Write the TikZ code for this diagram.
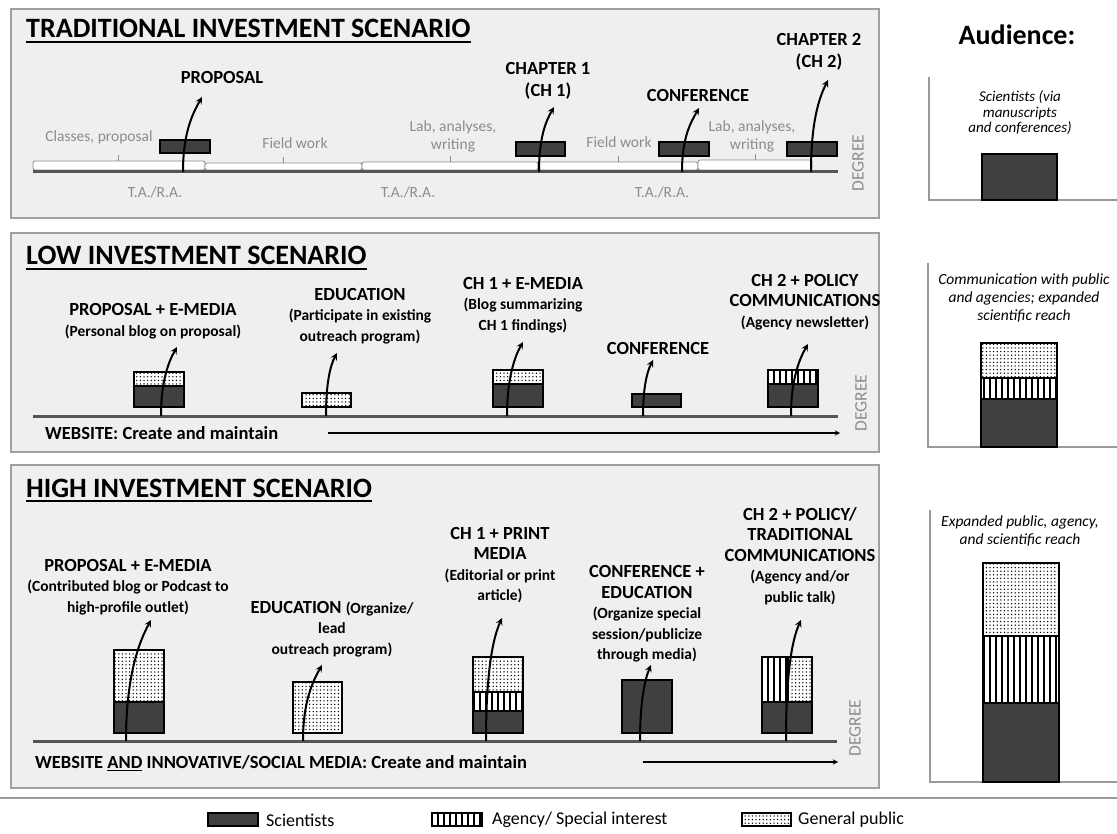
\documentclass[tikz,border=0pt]{standalone}
\usepackage{fontspec}
\setmainfont{Carlito}
\usepackage{tikz}
\usetikzlibrary{patterns.meta}

\definecolor{panelbg}{HTML}{EFEFEF}
\definecolor{panelline}{HTML}{A0A0A0}
\definecolor{scigray}{HTML}{404040}
\definecolor{txtgray}{HTML}{8C8C8C}
\definecolor{axisgray}{HTML}{9A9A9A}
\definecolor{basegray}{HTML}{555555}

\newcommand{\parenfont}{\fontsize{15.5}{18}\selectfont}

\tikzset{
  panel/.style={draw=panelline, line width=2.5, fill=panelbg},
  sci/.style={draw=black, line width=1.2, fill=scigray},
  pub/.style={draw=black, line width=1.2, preaction={fill=white}, pattern={Dots[distance=3.6pt, radius=0.75pt]}},
  agy/.style={draw=black, line width=1.2, preaction={fill=white}, pattern={Lines[angle=90, distance=6pt, line width=1.8pt]}},
  ttl/.style={font=\fontsize{28}{32}\selectfont\bfseries, anchor=base west, inner sep=0pt},
  evt/.style={font=\fontsize{18.5}{20.5}\selectfont\bfseries, align=center, inner sep=0pt},
  gry/.style={font=\fontsize{15.5}{18}\selectfont, text=txtgray, align=center, inner sep=0pt},
  aud/.style={font=\fontsize{15.5}{18.3}\selectfont\itshape, align=center, inner sep=0pt},
  degreelbl/.style={font=\fontsize{17.5}{20}\selectfont, text=txtgray, rotate=90, inner sep=0pt},
  seg/.style={draw=txtgray, line width=0.8, fill=white, rounded corners=2},
  baseline/.style={draw=basegray, line width=3},
  axis/.style={draw=axisgray, line width=2},
  outarrow/.style={->, >=stealth, line width=2},
  webarrow/.style={->, >=stealth, line width=1.3},
  keytext/.style={font=\fontsize{18}{21}\selectfont, anchor=west, inner sep=0pt},
}

\begin{document}
\begin{tikzpicture}[x=1pt,y=-1pt]
\useasboundingbox (0,0) rectangle (1117,834);

% panels
\draw[panel] (11,9) rectangle (879,218);
\draw[panel] (11,233) rectangle (879,452);
\draw[panel] (11,465) rectangle (879,788);

\node[ttl] (ttl1) at (26,38) {TRADITIONAL INVESTMENT SCENARIO};
\draw[line width=1.4] ([yshift=-4pt]ttl1.base west) -- ([yshift=-4pt]ttl1.base east);
\node[ttl] (ttl2) at (26,265) {LOW INVESTMENT SCENARIO};
\draw[line width=1.4] ([yshift=-4pt]ttl2.base west) -- ([yshift=-4pt]ttl2.base east);
\node[ttl] (ttl3) at (26,497) {HIGH INVESTMENT SCENARIO};
\draw[line width=1.4] ([yshift=-4pt]ttl3.base west) -- ([yshift=-4pt]ttl3.base east);

%%% traditional
\draw[seg] (33,161) rectangle (205,170);
\draw[seg] (205,163) rectangle (362,170);
\draw[seg] (362,162) rectangle (538,170);
\draw[seg] (538,162) rectangle (698,170);
\draw[seg] (698,160) rectangle (812,170);
\draw[txtgray, line width=0.8] (118,161) -- (118,155);
\draw[txtgray, line width=0.8] (283,163) -- (283,157);
\draw[txtgray, line width=0.8] (450,162) -- (450,156);
\draw[txtgray, line width=0.8] (618,162) -- (618,156);
\draw[txtgray, line width=0.8] (755,160) -- (755,154);
\draw[baseline] (33,172) -- (838,172);

\node[gry] (g1) at (99,137) {Classes, proposal};
\node[gry] (g2) at (295,143) {Field work};
\node[gry] (g3) at (453,136) {Lab, analyses,\\writing};
\node[gry] (g4) at (619,142) {Field work};
\node[gry] (g5) at (752,136) {Lab, analyses,\\writing};
\node[gry] (ta1) at (155,192) {T.A./R.A.};
\node[gry] (ta2) at (408,192) {T.A./R.A.};
\node[gry] (ta3) at (662,192) {T.A./R.A.};
\node[degreelbl] (dg1) at (858,163) {DEGREE};

\draw[sci] (160,140) rectangle (210,153);
\draw[sci] (516,142) rectangle (565,156);
\draw[sci] (659,142) rectangle (709,156);
\draw[sci] (787,142) rectangle (837,156);

\node[evt] (t1) at (222,78) {PROPOSAL};
\node[evt] (t2) at (548,81) {CHAPTER 1\\[1.5pt](CH 1)};
\node[evt] (t3) at (698,95) {CONFERENCE};
\node[evt] (t4) at (819,52) {CHAPTER 2\\[1.5pt](CH 2)};

\coordinate (t1s) at (183,172); \coordinate (t1e) at (202,97);
\coordinate (t2s) at (539,172); \coordinate (t2e) at (554,107);
\coordinate (t3s) at (682,172); \coordinate (t3e) at (699,108);
\coordinate (t4s) at (811,172); \coordinate (t4e) at (828,80);
\draw[outarrow] (t1s) .. controls +(0,-40) and +(-9,16) .. (t1e);
\draw[outarrow] (t2s) .. controls +(0,-35) and +(-8,14) .. (t2e);
\draw[outarrow] (t3s) .. controls +(0,-35) and +(-8,14) .. (t3e);
\draw[outarrow] (t4s) .. controls +(0,-50) and +(-9,18) .. (t4e);

%%% low
\draw[baseline] (33,416) -- (838,416);
\node[evt, anchor=west] (web1) at (45,433) {WEBSITE: Create and maintain};
\coordinate (w1s) at (328,433); \coordinate (w1e) at (840,433);
\draw[webarrow] (w1s) -- (w1e);
\node[degreelbl] (dg2) at (861,403) {DEGREE};

\draw[pub] (134,372) rectangle (184,386);
\draw[sci] (134,386) rectangle (184,407);
\draw[pub] (302,393) rectangle (351,407);
\draw[pub] (493,370) rectangle (543,384);
\draw[sci] (493,384) rectangle (543,407);
\draw[sci] (632,394) rectangle (681,407);
\draw[agy] (768,370) rectangle (818,384);
\draw[sci] (768,384) rectangle (818,407);

\node[evt] (l1) at (153,321) {PROPOSAL + E-MEDIA\\{\parenfont (Personal blog on proposal)}};
\node[evt] (l2) at (360,316) {EDUCATION\\{\parenfont (Participate in existing}\\{\parenfont outreach program)}};
\node[evt] (l3) at (523,305) {CH 1 + E-MEDIA\\{\parenfont (Blog summarizing}\\{\parenfont CH 1 findings)}};
\node[evt] (l4) at (658,348) {CONFERENCE};
\node[evt] (l5) at (805,302) {CH 2 + POLICY\\COMMUNICATIONS\\{\parenfont (Agency newsletter)}};

\coordinate (l1s) at (161,416); \coordinate (l1e) at (177,347);
\coordinate (l2s) at (326,416); \coordinate (l2e) at (337,353);
\coordinate (l3s) at (507,416); \coordinate (l3e) at (523,342);
\coordinate (l4s) at (643,416); \coordinate (l4e) at (653,360);
\coordinate (l5s) at (791,416); \coordinate (l5e) at (808,344);
\draw[outarrow] (l1s) .. controls +(0,-36) and +(-8,14) .. (l1e);
\draw[outarrow] (l2s) .. controls +(0,-32) and +(-7,13) .. (l2e);
\draw[outarrow] (l3s) .. controls +(0,-38) and +(-8,14) .. (l3e);
\draw[outarrow] (l4s) .. controls +(0,-28) and +(-6,12) .. (l4e);
\draw[outarrow] (l5s) .. controls +(0,-38) and +(-8,14) .. (l5e);

%%% high
\draw[baseline] (33,741) -- (837,741);
\node[evt, anchor=west] (web2) at (35,763) {WEBSITE \underline{AND} INNOVATIVE/SOCIAL MEDIA: Create and maintain};
\coordinate (w2s) at (643,762); \coordinate (w2e) at (838,762);
\draw[webarrow] (w2s) -- (w2e);
\node[degreelbl] (dg3) at (855,728) {DEGREE};

\draw[pub] (114,650) rectangle (164,702);
\draw[sci] (114,702) rectangle (164,733);
\draw[pub] (293,682) rectangle (342,733);
\draw[pub] (473,657) rectangle (523,692);
\draw[agy] (473,692) rectangle (523,711);
\draw[sci] (473,711) rectangle (523,733);
\draw[sci] (622,680) rectangle (672,733);
\draw[agy] (762,657) rectangle (788,702);
\draw[pub] (788,657) rectangle (812,702);
\draw[sci] (762,702) rectangle (812,733);

\node[evt] (h1) at (128,587) {PROPOSAL + E-MEDIA\\{\parenfont (Contributed blog or Podcast to}\\{\parenfont high-profile outlet)}};
\node[evt] (h2) at (332,629) {EDUCATION {\parenfont (Organize/}\\{\parenfont lead}\\{\parenfont outreach program)}};
\node[evt] (h3) at (500,565) {CH 1 + PRINT\\MEDIA\\{\parenfont (Editorial or print}\\{\parenfont article)}};
\node[evt] (h4) at (647,614) {CONFERENCE +\\EDUCATION\\{\parenfont (Organize special}\\{\parenfont session/publicize}\\{\parenfont through media)}};
\node[evt] (h5) at (800,556) {CH 2 + POLICY/\\TRADITIONAL\\COMMUNICATIONS\\{\parenfont (Agency and/or}\\{\parenfont public talk)}};

\coordinate (h1s) at (126,741); \coordinate (h1e) at (151,620);
\coordinate (h2s) at (303,741); \coordinate (h2e) at (322,665);
\coordinate (h3s) at (486,741); \coordinate (h3e) at (502,618);
\coordinate (h4s) at (640,741); \coordinate (h4e) at (651,665);
\coordinate (h5s) at (786,741); \coordinate (h5e) at (801,620);
\draw[outarrow] (h1s) .. controls +(0,-65) and +(-12,22) .. (h1e);
\draw[outarrow] (h2s) .. controls +(0,-40) and +(-9,16) .. (h2e);
\draw[outarrow] (h3s) .. controls +(0,-70) and +(-9,20) .. (h3e);
\draw[outarrow] (h4s) .. controls +(0,-40) and +(-6,14) .. (h4e);
\draw[outarrow] (h5s) .. controls +(0,-68) and +(-9,20) .. (h5e);

%%% audience
\node[font=\fontsize{28}{32}\selectfont\bfseries] (aud) at (1017,35) {Audience:};

\draw[axis] (929,77) -- (929,200) -- (1117,200);
\draw[sci] (982,154) rectangle (1057,200);
\node[aud, font=\fontsize{15}{15.5}\selectfont\itshape] (a1) at (1020,113) {Scientists (via\\manuscripts\\and conferences)};

\draw[axis] (928,263) -- (928,447) -- (1117,447);
\draw[pub] (981,343) rectangle (1057,378);
\draw[agy] (981,378) rectangle (1057,399);
\draw[sci] (981,399) rectangle (1057,447);
\node[aud] (a2) at (1024,298) {Communication with public\\and agencies; expanded\\scientific reach};

\draw[axis] (930,510) -- (930,782) -- (1117,782);
\draw[pub] (983,563) rectangle (1059,636);
\draw[agy] (983,636) rectangle (1059,703);
\draw[sci] (983,703) rectangle (1059,782);
\node[aud] (a3) at (1020,531) {Expanded public, agency,\\and scientific reach};

%%% legend
\draw[axis] (0,798) -- (1117,798);
\draw[sci] (208,813) rectangle (258,826);
\node[keytext] (k1) at (266,820) {Scientists};
\draw[agy] (432,813) rectangle (482,826);
\node[keytext] (k2) at (492,820) {Agency/ Special interest};
\draw[pub] (742,813) rectangle (791,826);
\node[keytext] (k3) at (798,820) {General public};
\end{tikzpicture}
\end{document}
